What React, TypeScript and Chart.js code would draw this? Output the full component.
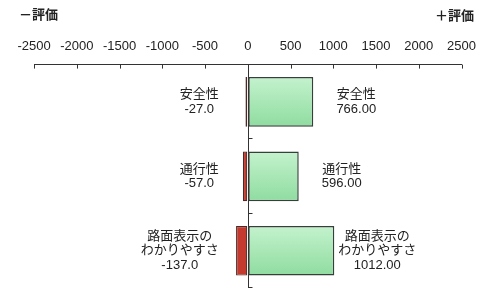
import React, { useEffect, useRef } from "react";
import { Chart, registerables } from "chart.js";

Chart.register(...registerables);

const categories: string[][] = [["安全性"], ["通行性"], ["路面表示の", "わかりやすさ"]];
const negativeValues: number[] = [-27, -57, -137];
const positiveValues: number[] = [766, 596, 1012];
const axisMin = -2500;
const axisMax = 2500;
const axisStep = 500;
const negativeTitle = "－評価";
const positiveTitle = "＋評価";

const FONT = '"Liberation Sans", Arial, "Noto Sans CJK JP", sans-serif';
const CJK = '"Noto Sans CJK JP", "Liberation Sans", sans-serif';
const CAT_PCT = 0.667;

export default function App() {
  const ref = useRef<HTMLCanvasElement | null>(null);

  useEffect(() => {
    const canvas = ref.current;
    if (!canvas) return;

    const overlay = {
      id: "overlay",
      afterDatasetsDraw(chart: any) {
        const { ctx, chartArea } = chart;
        const xs = chart.scales.x;
        const ys = chart.scales.y;
        ctx.save();
        ctx.strokeStyle = "#333";
        ctx.lineWidth = 1;
        // top axis ticks pointing down
        for (let v = axisMin; v <= axisMax; v += axisStep) {
          const px = Math.round(xs.getPixelForValue(v)) + 0.5;
          ctx.beginPath();
          ctx.moveTo(px, chartArea.top);
          ctx.lineTo(px, chartArea.top + 4);
          ctx.stroke();
        }
        // zero line
        const zx = Math.round(xs.getPixelForValue(0)) + 0.5;
        ctx.beginPath();
        ctx.moveTo(zx, chartArea.top);
        ctx.lineTo(zx, chartArea.bottom);
        ctx.stroke();
        // band ticks
        const band = (chartArea.bottom - chartArea.top) / categories.length;
        for (let i = 1; i <= categories.length; i++) {
          const py = Math.round(chartArea.top + band * i) - 0.5;
          ctx.beginPath();
          ctx.moveTo(zx, py);
          ctx.lineTo(zx + 4, py);
          ctx.stroke();
        }

        // labels
        ctx.fillStyle = "#222";
        ctx.font = `13px ${FONT}`;
        ctx.textAlign = "center";
        ctx.textBaseline = "middle";
        const lh = 14.5;
        const zeroPx = xs.getPixelForValue(0);
        categories.forEach((lines, i) => {
          const cy = ys.getPixelForValue(i);
          const negLines = [...lines, negativeValues[i].toFixed(1)];
          const posLines = [...lines, positiveValues[i].toFixed(2)];
          const posRight = xs.getPixelForValue(positiveValues[i]);
          const negW = Math.max(...negLines.map((t) => ctx.measureText(t).width));
          const negCx = zeroPx - 29 - negW / 2;
          const posCx = posRight + 43;
          const startN = cy - ((negLines.length - 1) * lh) / 2;
          negLines.forEach((t, k) => ctx.fillText(t, negCx, startN + k * lh));
          const startP = cy - ((posLines.length - 1) * lh) / 2;
          posLines.forEach((t, k) => ctx.fillText(t, posCx, startP + k * lh));
        });

        // titles
        ctx.font = `bold 13px ${CJK}`;
        ctx.fillStyle = "#222";
        ctx.textAlign = "left";
        ctx.fillText(negativeTitle, 19, 14);
        ctx.textAlign = "right";
        ctx.fillText(positiveTitle, 474, 15);
        ctx.restore();
      },
    };

    const greenFill = (c: any) => {
      const chart = c.chart;
      const area = chart.chartArea;
      if (!area || !chart.scales.y) return "#a6e6b2";
      const ys = chart.scales.y;
      const band = (area.bottom - area.top) / categories.length;
      const cy = ys.getPixelForValue(c.dataIndex);
      const half = (band * CAT_PCT) / 2;
      const g = chart.ctx.createLinearGradient(0, cy - half, 0, cy + half);
      g.addColorStop(0, "#c4f2cd");
      g.addColorStop(1, "#8fdca0");
      return g;
    };

    const chart = new Chart(canvas, {
      type: "bar",
      data: {
        labels: categories.map((c) => c.join("")),
        datasets: [
          {
            data: negativeValues,
            backgroundColor: "#c43a2e",
            borderColor: "#4a2a26",
            borderWidth: 1.2,
            barPercentage: 1,
            categoryPercentage: CAT_PCT,
            borderSkipped: false,
          },
          {
            data: positiveValues,
            backgroundColor: greenFill,
            borderColor: "#36403a",
            borderWidth: 1.5,
            barPercentage: 1,
            categoryPercentage: CAT_PCT,
            borderSkipped: false,
          },
        ],
      },
      plugins: [overlay],
      options: {
        indexAxis: "y",
        responsive: false,
        animation: false,
        layout: { padding: { top: 29, left: 34, right: 24, bottom: 0 } },
        plugins: { legend: { display: false }, tooltip: { enabled: false } },
        scales: {
          x: {
            position: "top",
            min: axisMin,
            max: axisMax,
            stacked: true,
            ticks: {
              stepSize: axisStep,
              color: "#222",
              font: { family: FONT, size: 13 },
              padding: 10,
              maxRotation: 0,
              autoSkip: false,
              callback: (v: any) => String(v),
            },
            grid: { drawOnChartArea: false, drawTicks: false },
            border: { display: true, color: "#333", width: 1 },
          },
          y: {
            display: false,
            stacked: true,
          },
        },
      },
    });
    return () => chart.destroy();
  }, []);

  return (
    <div style={{ position: "absolute", left: 0, top: 0, width: 486, height: 288, background: "#fff" }}>
      <canvas ref={ref} width={486} height={288} style={{ display: "block" }} />
    </div>
  );
}
